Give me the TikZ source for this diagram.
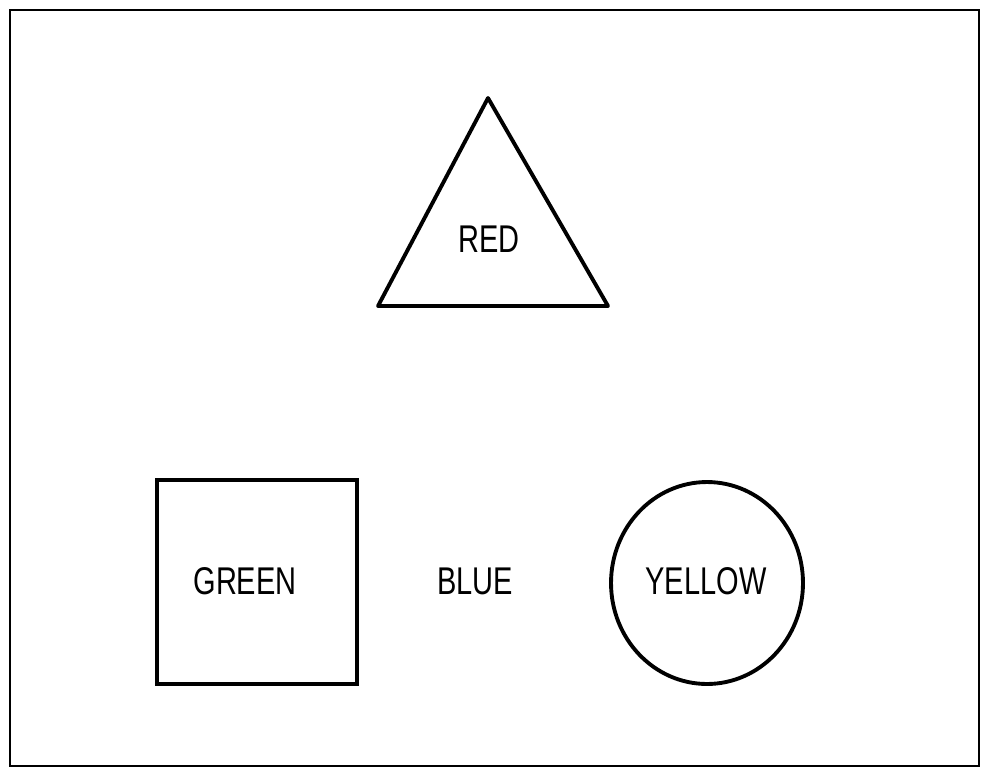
\documentclass[tikz,border=0pt]{standalone}
\usepackage{fontspec}
\newfontfamily\labelfont[FakeStretch=0.75]{Liberation Sans}

\begin{document}
\begin{tikzpicture}[x=0.02cm, y=-0.02cm,
  lbl/.style={font=\labelfont\fontsize{22}{24}\selectfont, inner sep=0pt},
  shape line/.style={line width=2.2pt, line join=round}]

  \useasboundingbox (0,0) rectangle (982,771);

  % Frame
  \draw[line width=1.6pt] (10,10) rectangle (979,766);

  % ---- Triangle ----
  \draw[shape line] (488,98) -- (608,306) -- (378,306) -- cycle;
  \node[lbl] (red) at (489,239) {RED};

  % ---- Square ----
  \draw[line width=1.8pt] (157,480) rectangle (357,684);
  \node[lbl] (green) at (245,581) {GREEN};

  % ---- Plain label ----
  \node[lbl] (blue) at (475,581) {BLUE};

  % ---- Circle ----
  \draw[shape line] (707,583) ellipse [x radius=1.92cm, y radius=2.02cm];
  \node[lbl] (yellow) at (706,581) {YELLOW};

\end{tikzpicture}
\end{document}
